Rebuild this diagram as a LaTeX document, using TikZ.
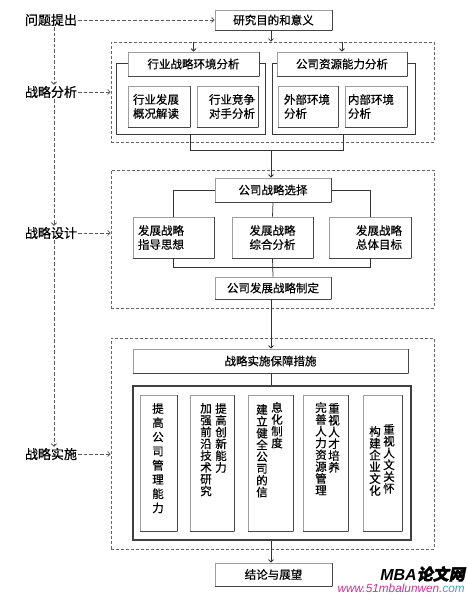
\documentclass[tikz,border=0pt]{standalone}
\usepackage{fontspec}
\setmainfont{Noto Sans CJK SC}[FakeBold=0.6]
\newfontfamily\wmlat{Liberation Sans}
\newfontfamily\wmcjk{Noto Sans CJK SC}[FakeSlant=0.2,FakeBold=2]
\usetikzlibrary{arrows.meta,calc}
\definecolor{wmpink}{HTML}{CC3399}
\definecolor{wmcyan}{HTML}{33AACC}
\begin{document}
\begin{tikzpicture}[x=1pt,y=-1pt,
  bx/.style={draw=black!38, line width=0.9pt, fill=white, inner sep=0pt, text=black,
    font=\fontsize{11.5}{14}\selectfont,
    append after command={(\tikzlastnode.south west) edge[draw=black!72,line width=0.9pt] (\tikzlastnode.south east)
      (\tikzlastnode.south east) edge[draw=black!72,line width=0.9pt] (\tikzlastnode.north east)}},
  grp/.style={draw=black!78, line width=0.8pt, fill=white, inner sep=0pt},
  dbox/.style={draw=black!60, line width=0.8pt, dash pattern=on 3pt off 2pt, inner sep=0pt},
  lab/.style={font=\fontsize{13}{15}\selectfont, inner sep=1pt, text=black},
  con/.style={draw=black!80, line width=0.75pt},
  arr/.style={con, -{Straight Barb[length=2.5pt,width=5pt]}},
  darr/.style={draw=black!65, line width=0.75pt, dash pattern=on 3.5pt off 2pt, -{Straight Barb[length=2.5pt,width=5pt]}},
  vt/.style={align=center, inner sep=0pt, anchor=north, text=black},
]
\useasboundingbox (0,0) rectangle (468,595);
\fill[white] (0,0) rectangle (468,595);
\coordinate (vl) at (54,0);
\coordinate (spine) at (271,0);

% left labels
\node[lab] (q1) at (51,20) {问题提出};
\node[lab] (q2) at (51,92) {战略分析};
\node[lab] (q3) at (51,233) {战略设计};
\node[lab] (q4) at (51,454) {战略实施};

% dashed groups
\node[dbox, minimum width=323pt, minimum height=100pt] (D1) at (272.5,92) {};
\node[dbox, minimum width=323pt, minimum height=138pt] (D2) at (272.5,239) {};
\node[dbox, minimum width=323pt, minimum height=211pt] (D3) at (272.5,443.5) {};

% section 1
\node[bx, minimum width=117pt, minimum height=20pt] (goal) at (273.5,20) {研究目的和意义};
\node[grp, minimum width=149pt, minimum height=71pt] (oA) at (190.5,98.5) {};
\node[grp, minimum width=143pt, minimum height=71pt] (oB) at (343.5,98.5) {};
\node[bx, minimum width=131pt, minimum height=24pt] (hA) at (193.5,64) {行业战略环境分析};
\node[bx, minimum width=130pt, minimum height=24pt] (hB) at (342,64) {公司资源能力分析};
\node[bx, minimum height=41pt, text width=52pt, inner xsep=5pt, align=left] (a1) at (159,106.5) {行业发展\\概况解读};
\node[bx, minimum height=41pt, text width=55pt, inner xsep=3pt, align=right] (a2) at (227.5,106.5) {行业竞争\\对手分析};
\node[bx, minimum height=41pt, text width=48pt, inner xsep=6pt, align=left] (b1) at (308,106.5) {外部环境\\分析};
\node[bx, minimum height=41pt, text width=56pt, inner xsep=3pt, align=left] (b2) at (376,106.5) {内部环境\\分析};

% section 2
\node[bx, minimum width=116pt, minimum height=24pt] (s) at (273,190) {公司战略选择};
\node[bx, minimum height=41pt, text width=71pt, inner xsep=5pt, align=left] (c1) at (173.5,237.5) {发展战略\\指导思想};
\node[bx, minimum height=41pt, text width=71pt, inner xsep=5pt, align=center] (c2) at (272.5,237.5) {发展战略\\综合分析};
\node[bx, minimum height=41pt, text width=64pt, inner xsep=9pt, align=right] (c3) at (370,237.5) {发展战略\\总体目标};
\node[bx, minimum width=116pt, minimum height=22pt] (p) at (273,288) {公司发展战略制定};

% section 3
\node[bx, minimum width=275pt, minimum height=24pt] (m) at (270.5,361) {战略实施保障措施};
\node[draw=black!75, line width=1.6pt, fill=white, minimum width=278pt, minimum height=154pt, inner sep=0pt] (B) at (272,463) {};
\node[bx, minimum width=37pt, minimum height=136pt] (k1) at (158.5,463) {};
\node[bx, minimum width=44pt, minimum height=136pt] (k2) at (212,463) {};
\node[bx, minimum width=45pt, minimum height=136pt] (k3) at (270.5,463) {};
\node[bx, minimum width=45pt, minimum height=136pt] (k4) at (325.5,463) {};
\node[bx, minimum width=39pt, minimum height=136pt] (k5) at (382.5,463) {};
\node[vt, font=\fontsize{11.5}{14.2}\selectfont] (t1) at (158,403) {提\\高\\公\\司\\管\\理\\能\\力};
\node[vt, font=\fontsize{11.5}{11.8}\selectfont] (t2a) at (206,403) {加\\强\\前\\沿\\技\\术\\研\\究};
\node[vt, font=\fontsize{11.5}{11.8}\selectfont] (t2b) at (221,403) {提\\高\\创\\新\\能\\力};
\node[vt, font=\fontsize{11.5}{11.8}\selectfont] (t3a) at (262,404) {建\\立\\健\\全\\公\\司\\的\\信};
\node[vt, font=\fontsize{11.5}{11.8}\selectfont] (t3b) at (277,402) {息\\化\\制\\度};
\node[vt, font=\fontsize{11.5}{11.8}\selectfont] (t4a) at (321,402) {完\\善\\人\\力\\资\\源\\管\\理};
\node[vt, font=\fontsize{11.5}{11.8}\selectfont] (t4b) at (334,403) {重\\视\\人\\才\\培\\养};
\node[vt, font=\fontsize{11.5}{11.8}\selectfont] (t5a) at (375,426) {构\\建\\企\\业\\文\\化};
\node[vt, font=\fontsize{11.5}{11.8}\selectfont] (t5b) at (389,424) {重\\视\\人\\文\\关\\怀};
\node[bx, minimum width=117pt, minimum height=23pt] (concl) at (273.5,574.5) {结论与展望};

% connectors
\draw[arr] (goal.south -| spine) -- (D1.north -| spine);
\draw[arr] (hA.north |- D1.north) -- (hA.north);
\draw[arr] (hB.north |- D1.north) -- (hB.north);
\draw[con] (oA.south) -- ++(0,16) coordinate (j1) -| (oB.south);
\draw[arr] (j1 -| spine) -- (s.north -| spine);
\draw[con] (s.west) -| (c1.north);
\draw[con] (s.east) -| (c3.north);
\draw[con] (s.south) -- (c2.north);
\draw[con] (c1.south) -- ++(0,9) coordinate (j2) -| (c3.south);
\draw[con] (c2.south) -- (p.north);
\draw[arr] (p.south -| spine) -- (m.north -| spine);
\draw[con] (m.south -| spine) -- (B.north -| spine);
\draw[arr] (B.south -| spine) -- (concl.north -| spine);

% dashed arrows
\draw[darr] (q1.east) -- (goal.west);
\draw[darr] (q2.east) -- (q2.east -| D1.west);
\draw[darr] (q3.east) -- (q3.east -| D2.west);
\draw[darr] (q4.east) -- (q4.east -| D3.west);
\draw[darr] (q1.south -| vl) -- (q2.north -| vl);
\draw[darr] (q2.south -| vl) -- (q3.north -| vl);
\draw[darr] (q3.south -| vl) -- (q4.north -| vl);

% watermark
\node[anchor=east, inner sep=0pt] (wm1) at (465,574) {\fontsize{16}{16}\selectfont\wmlat\bfseries\itshape MBA\wmcjk 论文网};
\node[anchor=east, inner sep=0pt] (wm2) at (465,588) {\fontsize{11.8}{12}\selectfont\wmlat\itshape\textcolor{wmpink}{www.51mbalunwen.}\textcolor{wmcyan}{com}};
\end{tikzpicture}
\end{document}
